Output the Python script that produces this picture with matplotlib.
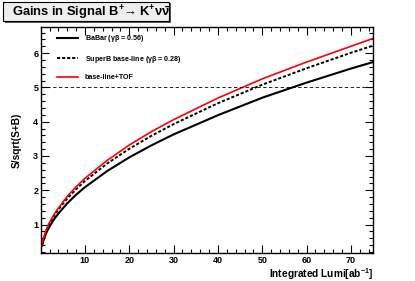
import matplotlib
matplotlib.use("Agg")
import matplotlib.pyplot as plt
from matplotlib.patches import Rectangle
from matplotlib.ticker import MultipleLocator

plt.rcParams['font.family'] = ['Liberation Sans', 'DejaVu Sans']
plt.rcParams['mathtext.fontset'] = 'custom'
plt.rcParams['mathtext.rm'] = 'Liberation Sans:bold'
plt.rcParams['mathtext.it'] = 'Liberation Sans:bold'
plt.rcParams['mathtext.bf'] = 'Liberation Sans:bold'

# luminosity points (ab^-1) and S/sqrt(S+B)
lumi = [0.3, 0.6, 1, 1.5, 2, 3, 4, 6, 8, 10, 15, 20, 25, 30, 40, 50, 60, 70, 75]
babar = [0.38, 0.52, 0.67, 0.82, 0.94, 1.15, 1.32, 1.62, 1.87, 2.09, 2.56,
         2.96, 3.31, 3.63, 4.19, 4.70, 5.14, 5.55, 5.74]
superb = [0.40, 0.56, 0.72, 0.89, 1.02, 1.25, 1.44, 1.76, 2.03, 2.27, 2.78,
          3.21, 3.59, 3.93, 4.54, 5.08, 5.56, 6.01, 6.22]
tof = [0.41, 0.58, 0.75, 0.92, 1.06, 1.29, 1.48, 1.82, 2.10, 2.35, 2.87,
       3.32, 3.71, 4.06, 4.69, 5.25, 5.74, 6.20, 6.43]
labels = [r'BaBar ($\gamma\beta$ = 0.56)', r'SuperB base-line ($\gamma\beta$ = 0.28)',
          'base-line+TOF']
threshold = 5

fig = plt.figure(figsize=(4.15, 2.81), dpi=100)
ax = fig.add_axes([0.099, 0.0996, 0.800, 0.804])

ax.plot(lumi, babar, color='black', lw=1.5, label=labels[0])
ax.plot(lumi, superb, color='black', lw=1.4, ls=(0, (1.6, 1.0)), label=labels[1])
ax.plot(lumi, tof, color='red', lw=1.2, label=labels[2])
ax.axhline(threshold, color='black', lw=0.6, ls=(0, (4, 3)))

ax.set_xlim(0.1, 75)
ax.set_ylim(0.17, 6.76)
ax.xaxis.set_major_locator(MultipleLocator(10))
ax.xaxis.set_minor_locator(MultipleLocator(2))
ax.yaxis.set_major_locator(MultipleLocator(1))
ax.yaxis.set_minor_locator(MultipleLocator(0.2))
ax.tick_params(which='both', direction='in', top=True, right=True, width=0.8,
               labelsize=6.5, pad=2)
ax.tick_params(which='major', length=6)
ax.tick_params(which='minor', length=3)
for lab in ax.get_xticklabels() + ax.get_yticklabels():
    lab.set_fontweight('bold')
for s in ax.spines.values():
    s.set_linewidth(1.0)

ax.set_xlabel(r'Integrated Lumi[ab$^{-1}$]', fontsize=7.3, fontweight='bold',
              loc='right', labelpad=1)
ax.set_ylabel('S/sqrt(S+B)', fontsize=7.3, fontweight='bold', loc='center', labelpad=8)

leg = ax.legend(loc='upper left', bbox_to_anchor=(0.04, 0.985), frameon=False,
                prop={'size': 5.1, 'weight': 'bold'}, handlelength=3.0,
                handletextpad=0.9, labelspacing=1.35, borderaxespad=0)

# title box with shadow, ROOT style
fig.patches.append(Rectangle((0.012, 0.918), 0.400, 0.072, transform=fig.transFigure,
                             facecolor='#555555', edgecolor='none'))
fig.patches.append(Rectangle((0.008, 0.925), 0.400, 0.069, transform=fig.transFigure,
                             facecolor='#eeeeee', edgecolor='black', lw=0.8))
fig.text(0.030, 0.941, r'Gains in Signal B$^{+}\!\rightarrow$K$^{+}\nu\bar{\nu}$',
         fontsize=9.3, fontweight='bold')

fig.savefig('out.png', dpi=100)
